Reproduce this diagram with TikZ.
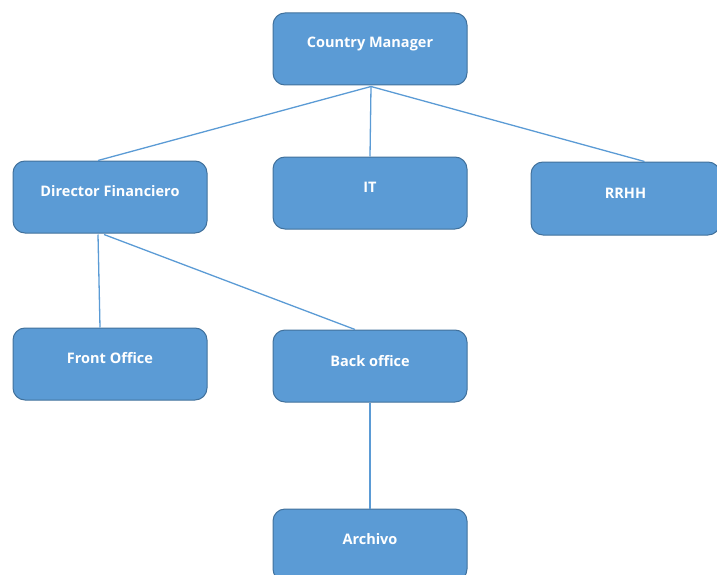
\documentclass[tikz,border=0pt]{standalone}
\usepackage{fontspec}
\setmainfont{Open Sans}
\definecolor{boxfill}{HTML}{5B9BD5}
\definecolor{boxedge}{HTML}{41719C}
\definecolor{linkcol}{HTML}{5B9BD5}
\begin{document}
\begin{tikzpicture}[x=1pt,y=-1pt,
  orgbox/.style={draw=boxedge, line width=1pt, fill=boxfill, rounded corners=12pt,
    minimum width=194pt, minimum height=72pt, inner sep=0pt},
  lbl/.style={text=white, font=\fontsize{14.5}{16}\selectfont\bfseries},
  link/.style={draw=linkcol, line width=1.3pt}]
\useasboundingbox (0,0) rectangle (717,575);
\clip (0,0) rectangle (717,575);
% boxes
\node[orgbox] (cm) at (370,49) {};
\node[orgbox] (df) at (110,197) {};
\node[orgbox] (it) at (370,193) {};
\node[orgbox, minimum width=189pt, minimum height=73pt] (rr) at (625.5,198.5) {};
\node[orgbox] (fo) at (110,364) {};
\node[orgbox] (bo) at (370,366) {};
\node[orgbox] (ar) at (370,545) {};
% labels, set a little above the box centres
\node[lbl] at ([yshift=5pt]cm.center) {Country Manager};
\node[lbl] at ([yshift=6pt]df.center) {Director Financiero};
\node[lbl] at ([yshift=6pt]it.center) {IT};
\node[lbl] at ([yshift=5pt]rr.center) {RRHH};
\node[lbl] at ([yshift=6pt]fo.center) {Front Office};
\node[lbl] at ([yshift=5pt]bo.center) {Back office};
\node[lbl] at ([yshift=6pt]ar.center) {Archivo};
% connectors
\coordinate (cmbot) at ([xshift=1pt,yshift=-1pt]cm.south);
\draw[link] (cmbot) -- ([xshift=-12pt]df.north);
\draw[link] (cmbot) -- (it.north);
\draw[link] (cmbot) -- ([xshift=19pt]rr.north);
\draw[link] ([xshift=-12pt,yshift=-1pt]df.south) -- ([xshift=-10pt]fo.north);
\draw[link] ([xshift=-6pt,yshift=-1pt]df.south) -- ([xshift=-15pt]bo.north);
\draw[link] (bo.south) -- (ar.north);
\end{tikzpicture}
\end{document}
